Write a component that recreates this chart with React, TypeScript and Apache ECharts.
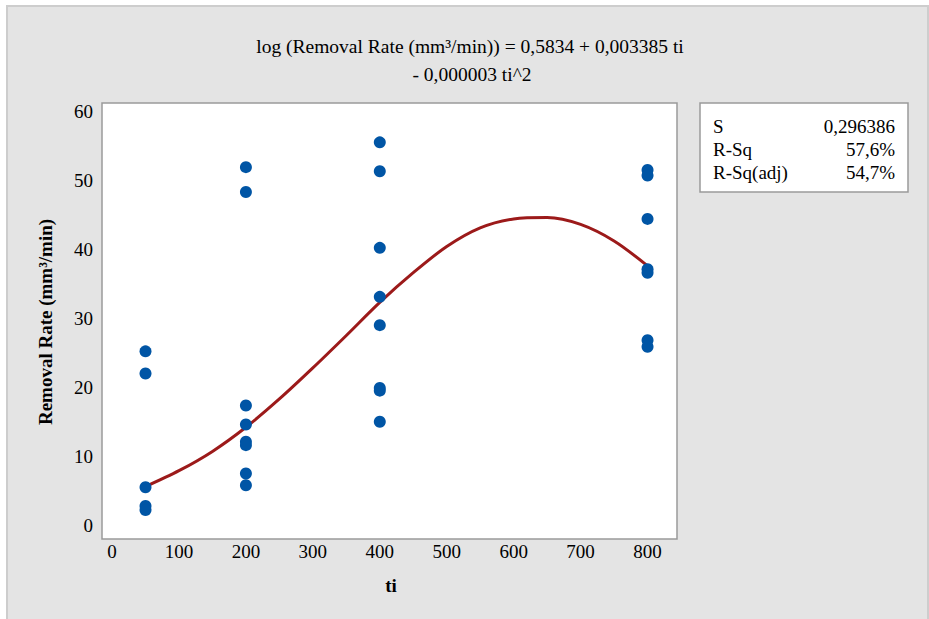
import React, { useEffect, useRef } from "react";
import * as echarts from "echarts";

const tiLevels = [50, 200, 400, 800];
const rate50 = [25.2, 22.0, 5.5, 2.8, 2.2];
const rate200 = [51.9, 48.3, 17.35, 14.6, 12.1, 11.6, 7.5, 5.8];
const rate400 = [55.5, 51.3, 40.2, 33.1, 29.0, 19.9, 19.5, 15.0];
const rate800 = [51.5, 50.7, 44.4, 37.1, 36.6, 26.8, 25.85];

// Fitted curve
const fitTi = [50, 100, 150, 200, 250, 300, 350, 400, 450, 500, 550, 600, 650, 700, 750, 800];
const fitRate = [5.6, 7.9, 10.7, 14.2, 18.3, 22.8, 27.5, 32.3, 36.6, 40.4, 43.1, 44.4, 44.6, 43.6, 41.2, 37.6];

const xTicks = [0, 100, 200, 300, 400, 500, 600, 700, 800];
const yTicks = [0, 10, 20, 30, 40, 50, 60];

const titleLine1 = "log (Removal Rate (mm³/min)) = 0,5834 + 0,003385 ti";
const titleLine2 = "- 0,000003 ti^2";
const statNames = ["S", "R-Sq", "R-Sq(adj)"];
const statValues = ["0,296386", "57,6%", "54,7%"];

const FONT = "'Liberation Serif', 'Times New Roman', serif";

export default function App() {
  const ref = useRef<HTMLDivElement>(null);
  useEffect(() => {
    if (!ref.current) return;
    const chart = echarts.init(ref.current, null, { renderer: "svg" });
    const groups = [rate50, rate200, rate400, rate800];
    const points: number[][] = [];
    groups.forEach((g, i) => g.forEach((v) => points.push([tiLevels[i], v])));
    const fitData = fitTi.map((t, i) => [t, fitRate[i]]);

    const statTexts: any[] = [];
    statNames.forEach((n, i) => {
      statTexts.push({
        type: "text",
        x: 713,
        y: 126 + i * 23,
        style: { text: n, font: `19px ${FONT}`, fill: "#000", textAlign: "left", textVerticalAlign: "middle" },
      });
      statTexts.push({
        type: "text",
        x: 895,
        y: 126 + i * 23,
        style: { text: statValues[i], font: `19px ${FONT}`, fill: "#000", textAlign: "right", textVerticalAlign: "middle" },
      });
    });

    chart.setOption({
      animation: false,
      backgroundColor: "#ffffff",
      grid: {
        left: 102,
        top: 103,
        width: 575,
        height: 436,
        show: true,
        backgroundColor: "#ffffff",
        borderColor: "#9a9a9a",
        borderWidth: 1.5,
        z: 1,
      },
      xAxis: {
        type: "value",
        min: -15,
        max: 844,
        axisLine: { show: false },
        splitLine: { show: false },
        axisTick: { show: true, length: 5, customValues: xTicks, lineStyle: { color: "#8a8a8a", width: 1 } },
        axisLabel: { customValues: xTicks, margin: 3, color: "#000", fontFamily: FONT, fontSize: 19 },
      },
      yAxis: {
        type: "value",
        min: -2,
        max: 61.2,
        axisLine: { show: false },
        splitLine: { show: false },
        axisTick: { show: true, length: 5, customValues: yTicks, lineStyle: { color: "#8a8a8a", width: 1 } },
        axisLabel: { customValues: yTicks, margin: 9, color: "#000", fontFamily: FONT, fontSize: 19 },
      },
      graphic: [
        {
          type: "rect",
          z: -100,
          shape: { x: 7, y: 6, width: 921, height: 620 },
          style: { fill: "#e4e4e4", stroke: "#cdcdcd", lineWidth: 2 },
        },
        {
          type: "text",
          x: 470,
          y: 46,
          style: { text: titleLine1, font: `19.5px ${FONT}`, fill: "#000", textAlign: "center", textVerticalAlign: "middle" },
        },
        {
          type: "text",
          x: 472,
          y: 74,
          style: { text: titleLine2, font: `19.5px ${FONT}`, fill: "#000", textAlign: "center", textVerticalAlign: "middle" },
        },
        {
          type: "text",
          x: 391,
          y: 585,
          style: { text: "ti", font: `bold 19px ${FONT}`, fill: "#000", textAlign: "center", textVerticalAlign: "middle" },
        },
        {
          type: "text",
          x: 45,
          y: 322,
          rotation: Math.PI / 2,
          style: {
            text: "Removal Rate (mm³/min)",
            font: `bold 19px ${FONT}`,
            fill: "#000",
            textAlign: "center",
            textVerticalAlign: "middle",
          },
        },
        {
          type: "rect",
          shape: { x: 700, y: 103, width: 208, height: 89 },
          style: { fill: "#ffffff", stroke: "#9a9a9a", lineWidth: 1.5 },
        },
        ...statTexts,
      ],
      series: [
        {
          type: "line",
          data: fitData,
          smooth: 0.3,
          showSymbol: false,
          lineStyle: { color: "#9c1a1a", width: 3 },
          z: 2,
        },
        {
          type: "scatter",
          data: points,
          symbol: "circle",
          symbolSize: 12,
          itemStyle: { color: "#0055a5", opacity: 1 },
          z: 3,
        },
      ],
    });
    return () => chart.dispose();
  }, []);
  return (
    <div
      ref={ref}
      style={{ position: "absolute", left: 0, top: 0, width: 929, height: 619 }}
    />
  );
}
